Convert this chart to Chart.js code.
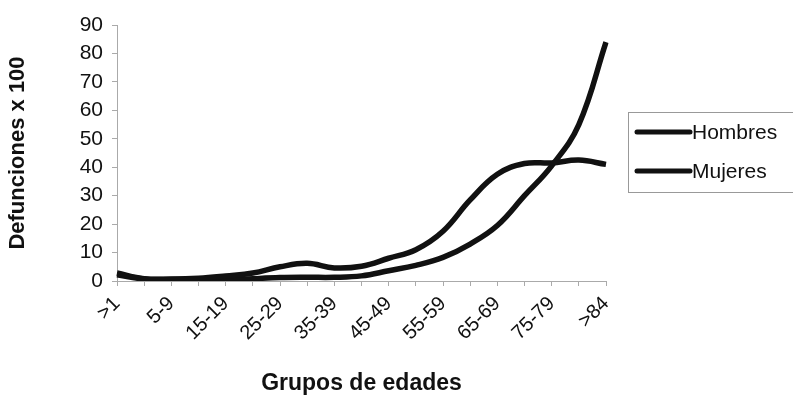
<!DOCTYPE html>
<html>
<head>
<meta charset="utf-8">
<script src="https://cdn.jsdelivr.net/npm/chart.js@4.4.1/dist/chart.umd.min.js"></script>
<style>
html,body{margin:0;padding:0;background:#fff;}
#wrap{width:793px;height:402px;position:relative;}
</style>
</head>
<body>
<div id="wrap"><canvas id="c" width="793" height="402"></canvas></div>
<script>
const categories = ['>1','1-4','5-9','10-14','15-19','20-24','25-29','30-34','35-39','40-44','45-49','50-54','55-59','60-64','65-69','70-74','75-79','80-84','>84'];
const hombres = [2.8, 0.8, 0.7, 1.0, 1.8, 2.8, 5.0, 6.2, 4.6, 5.2, 8, 11, 17.5, 28.5, 37.5, 41.3, 41.5, 42.5, 41];
const mujeres = [2.2, 0.7, 0.5, 0.3, 0.3, 0.8, 1.2, 1.3, 1.3, 1.8, 3.6, 5.5, 8.3, 13, 19.5, 30, 40.5, 55, 84];
const yTicks = [0, 10, 20, 30, 40, 50, 60, 70, 80, 90];
const seriesNames = ['Hombres', 'Mujeres'];
const xTitle = 'Grupos de edades';
const yTitle = 'Defunciones x 100';

const FONT = "'Liberation Sans', Arial, sans-serif";

const boxLegend = {
  id: 'boxLegend',
  afterDraw(chart) {
    const ctx = chart.ctx;
    const x0 = 628, y0 = 112, w = 170, h = 80;
    ctx.save();
    ctx.strokeStyle = '#999';
    ctx.lineWidth = 1;
    ctx.strokeRect(x0 + 0.5, y0 + 0.5, w, h);
    ctx.font = "21px " + FONT;
    ctx.textBaseline = 'middle';
    ctx.fillStyle = '#111';
    chart.data.datasets.forEach((ds, i) => {
      const y = 132 + i * 39;
      ctx.strokeStyle = ds.borderColor;
      ctx.lineWidth = 5;
      ctx.lineCap = 'round';
      ctx.beginPath();
      ctx.moveTo(637, y);
      ctx.lineTo(690, y);
      ctx.stroke();
      ctx.fillText(ds.label, 692, y + 1);
    });
    ctx.restore();
  }
};

new Chart(document.getElementById('c'), {
  type: 'line',
  data: {
    labels: categories,
    datasets: [
      { label: seriesNames[0], data: hombres, borderColor: '#111', borderWidth: 5.5, pointRadius: 0, tension: 0.4, fill: false },
      { label: seriesNames[1], data: mujeres, borderColor: '#111', borderWidth: 5.5, pointRadius: 0, tension: 0.4, fill: false }
    ]
  },
  options: {
    responsive: false,
    animation: false,
    layout: { padding: { top: 25, right: 187, bottom: 0, left: 0 } },
    plugins: { legend: { display: false }, tooltip: { enabled: false } },
    scales: {
      x: {
        offset: false,
        grid: { display: true, drawOnChartArea: false, drawTicks: true, tickLength: 5, color: '#aaa' },
        border: { display: true, color: '#aaa' },
        ticks: {
          autoSkip: false, maxRotation: 45, minRotation: 45, padding: 6,
          color: '#111', font: { family: FONT, size: 20 },
          callback: function(v, i) { return i % 2 === 0 ? categories[i] : ''; }
        },
        title: { display: true, text: xTitle, color: '#111', font: { family: FONT, size: 23, weight: 'bold' }, padding: { top: 0, bottom: 5 } },
        afterFit: s => { s.height = 121; }
      },
      y: {
        min: 0, max: 90,
        afterBuildTicks: s => { s.ticks = yTicks.map(v => ({ value: v })); },
        grid: { display: true, drawOnChartArea: false, drawTicks: true, tickLength: 5, color: '#aaa' },
        border: { display: true, color: '#aaa' },
        ticks: { color: '#111', font: { family: FONT, size: 21 }, padding: 9 },
        title: { display: true, text: yTitle, color: '#111', font: { family: FONT, size: 22, weight: 'bold' }, padding: { top: 5, bottom: 0 } },
        afterFit: s => { s.width = 117; }
      }
    }
  },
  plugins: [boxLegend]
});
</script>
</body>
</html>
